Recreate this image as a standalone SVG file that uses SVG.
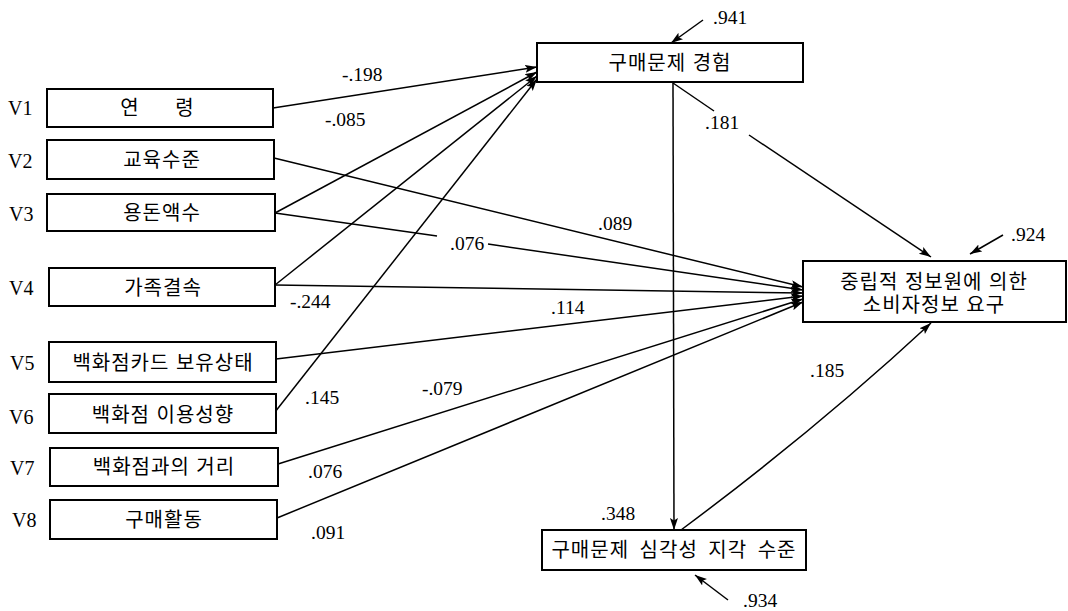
<svg xmlns="http://www.w3.org/2000/svg" width="1068" height="611" viewBox="0 0 1068 611">
<style>
.box{fill:#fff;stroke:#000;stroke-width:2}
.kt{font-family:"Liberation Sans","Noto Sans CJK KR",sans-serif;font-size:20px;fill:#000;text-anchor:middle;dominant-baseline:central;letter-spacing:1px}
.vl{font-family:"Liberation Serif",serif;font-size:20px;fill:#000}
.num{font-family:"Liberation Serif",serif;font-size:19.5px;fill:#000}
.ln{fill:none;stroke:#000;stroke-width:1.5}
.ar{fill:none;stroke:#000;stroke-width:1.5;marker-end:url(#ah)}
</style>
<defs>
<marker id="ah" markerWidth="13" markerHeight="9" refX="12" refY="4" orient="auto" markerUnits="userSpaceOnUse">
<path d="M0,0 L12,4 L0,8 L2.5,4 z" fill="#000"/>
</marker>
</defs>
<rect width="1068" height="611" fill="#fff"/>
<g id="var-labels">
<text class="vl" x="8" y="115">V1</text>
<text class="vl" x="8" y="168">V2</text>
<text class="vl" x="9" y="221">V3</text>
<text class="vl" x="9" y="295">V4</text>
<text class="vl" x="10" y="370">V5</text>
<text class="vl" x="9" y="424">V6</text>
<text class="vl" x="10" y="475">V7</text>
<text class="vl" x="12" y="527">V8</text>
</g>
<g id="connectors">
<line class="ar" x1="273" y1="108" x2="537" y2="67"/>
<line class="ar" x1="275" y1="213" x2="537" y2="72"/>
<line class="ar" x1="275" y1="285" x2="537" y2="76"/>
<line class="ar" x1="275" y1="412" x2="537" y2="79"/>
<line class="ar" x1="274" y1="158" x2="803" y2="287"/>
<line class="ln" x1="275" y1="213" x2="437" y2="236"/>
<line class="ar" x1="488" y1="244" x2="803" y2="290"/>
<line class="ar" x1="275" y1="285" x2="803" y2="293"/>
<line class="ar" x1="276" y1="359" x2="803" y2="296"/>
<line class="ar" x1="278" y1="464" x2="803" y2="299"/>
<line class="ar" x1="277" y1="518" x2="803" y2="302"/>
<line class="ln" x1="673" y1="83" x2="714" y2="111"/>
<line class="ar" x1="749" y1="135" x2="931" y2="257"/>
<line class="ar" x1="673" y1="83" x2="674" y2="530"/>
<path class="ar" d="M681,530 Q818,428 931,323"/>
<line class="ar" x1="703" y1="20" x2="671" y2="43"/>
<line class="ar" x1="1003" y1="235" x2="970" y2="254"/>
<line class="ar" x1="728" y1="600" x2="695" y2="575"/>
</g>
<g id="coefficients">
<text class="num" x="342" y="81">-.198</text>
<text class="num" x="325" y="126">-.085</text>
<text class="num" x="450" y="250">.076</text>
<text class="num" x="290" y="308">-.244</text>
<text class="num" x="305" y="404">.145</text>
<text class="num" x="422" y="395">-.079</text>
<text class="num" x="308" y="478">.076</text>
<text class="num" x="311" y="539">.091</text>
<text class="num" x="598" y="230">.089</text>
<text class="num" x="551" y="314">.114</text>
<text class="num" x="705" y="129">.181</text>
<text class="num" x="601" y="520">.348</text>
<text class="num" x="810" y="377">.185</text>
<text class="num" x="713" y="24">.941</text>
<text class="num" x="1011" y="241">.924</text>
<text class="num" x="743" y="607">.934</text>
</g>
<g id="n-v1"><rect class="box" x="47" y="89" width="226" height="38"/><text class="kt" y="108"><tspan x="130">연</tspan><tspan x="185">령</tspan></text></g>
<g id="n-v2"><rect class="box" x="47" y="140" width="227" height="39"/><text class="kt" x="162" y="160">교육수준</text></g>
<g id="n-v3"><rect class="box" x="47" y="194" width="228" height="37"/><text class="kt" x="162" y="213">용돈액수</text></g>
<g id="n-v4"><rect class="box" x="49" y="268" width="226" height="38"/><text class="kt" x="163" y="288">가족결속</text></g>
<g id="n-v5"><rect class="box" x="49" y="342" width="227" height="40"/><text class="kt" x="163" y="363">백화점카드 보유상태</text></g>
<g id="n-v6"><rect class="box" x="49" y="394" width="227" height="39"/><text class="kt" x="163" y="415">백화점 이용성향</text></g>
<g id="n-v7"><rect class="box" x="50" y="448" width="228" height="38"/><text class="kt" x="164" y="467">백화점과의 거리</text></g>
<g id="n-v8"><rect class="box" x="50" y="500" width="227" height="39"/><text class="kt" x="164" y="520">구매활동</text></g>
<g id="n-experience"><rect class="box" x="537" y="43" width="266" height="39"/><text class="kt" x="670" y="63">구매문제 경험</text></g>
<g id="n-need"><rect class="box" x="803" y="261" width="263" height="61"/><text class="kt" x="934" y="282">중립적 정보원에 의한</text><text class="kt" x="934" y="305">소비자정보 요구</text></g>
<g id="n-severity"><rect class="box" x="542" y="530" width="264" height="40"/><text class="kt" x="674" y="550" word-spacing="4">구매문제 심각성 지각 수준</text></g>
</svg>
